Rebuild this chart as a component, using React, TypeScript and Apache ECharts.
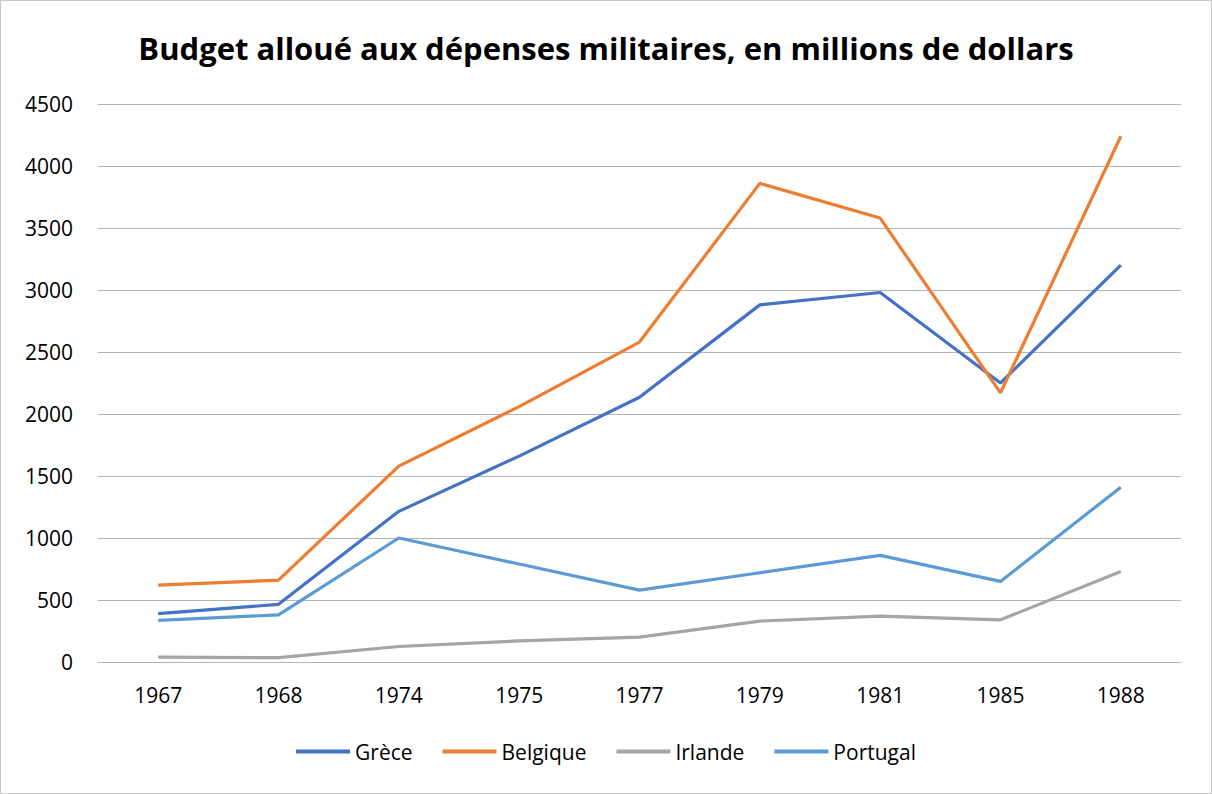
import React, { useEffect, useRef } from "react";
import * as echarts from "echarts";

const years = ["1967", "1968", "1974", "1975", "1977", "1979", "1981", "1985", "1988"];
const grece = [390, 465, 1215, 1660, 2135, 2880, 2980, 2250, 3200];
const belgique = [620, 660, 1580, 2060, 2580, 3860, 3580, 2170, 4240];
const irlande = [40, 35, 125, 170, 200, 330, 370, 340, 730];
const portugal = [335, 380, 1000, 790, 580, 720, 860, 650, 1410];

const FONT = "'Open Sans', sans-serif";

export default function App() {
  const ref = useRef<HTMLDivElement>(null);
  useEffect(() => {
    if (!ref.current) return;
    const chart = echarts.init(ref.current, null, { renderer: "svg" });
    const mk = (name: string, data: number[], color: string) => ({
      name,
      type: "line",
      data,
      symbol: "none",
      lineStyle: { width: 3.2, color },
      itemStyle: { color },
    });
    chart.setOption({
      animation: false,
      backgroundColor: "#ffffff",
      title: {
        text: "Budget alloué aux dépenses militaires, en millions de dollars",
        left: "center",
        top: 26,
        textStyle: { fontFamily: FONT, fontWeight: "bold", fontSize: 31, color: "#000" },
      },
      grid: { left: 97, right: 30, top: 103, bottom: 131, containLabel: false },
      xAxis: {
        type: "category",
        data: years,
        boundaryGap: true,
        axisLine: { show: true, lineStyle: { color: "#b4b4b4", width: 1 } },
        axisTick: { show: false },
        axisLabel: { fontFamily: FONT, fontSize: 21, color: "#000", margin: 22 },
      },
      yAxis: {
        type: "value",
        min: 0,
        max: 4500,
        interval: 500,
        axisLine: { show: false },
        axisTick: { show: false },
        splitLine: { lineStyle: { color: "#b4b4b4", width: 1 } },
        axisLabel: {
          fontFamily: FONT,
          fontSize: 21,
          color: "#000",
          margin: 25,
          formatter: (v: number) => String(v),
        },
      },
      legend: {
        bottom: 26,
        left: "center",
        icon: "rect",
        itemWidth: 54,
        itemHeight: 4,
        itemGap: 30,
        textStyle: { fontFamily: FONT, fontSize: 21, color: "#000" },
        data: ["Grèce", "Belgique", "Irlande", "Portugal"],
      },
      series: [
        mk("Grèce", grece, "#4472C4"),
        mk("Belgique", belgique, "#ED7D31"),
        mk("Irlande", irlande, "#A5A5A5"),
        mk("Portugal", portugal, "#5B9BD5"),
      ],
    });
    return () => chart.dispose();
  }, []);
  return (
    <div
      style={{
        position: "fixed",
        left: 0,
        top: 0,
        width: 1212,
        height: 794,
        boxSizing: "border-box",
        border: "1px solid #c8c8c8",
        background: "#fff",
      }}
    >
      <div ref={ref} style={{ width: 1210, height: 792 }} />
    </div>
  );
}
